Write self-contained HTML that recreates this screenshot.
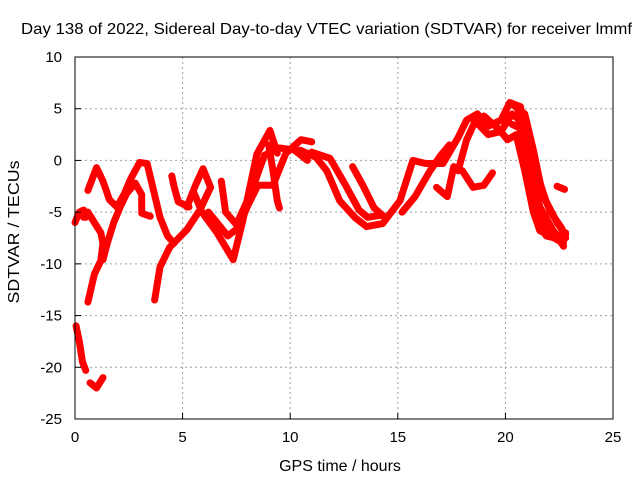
<!DOCTYPE html>
<html><head><meta charset="utf-8"><style>
body{margin:0;background:#fff}
svg{display:block;font-family:"Liberation Sans",sans-serif}
</style></head><body>
<svg id="chart" width="640" height="480" xmlns="http://www.w3.org/2000/svg">
<rect x="0" y="0" width="640" height="480" fill="#fff"/>
<text x="21" y="34" font-size="16" textLength="611" lengthAdjust="spacingAndGlyphs">Day 138 of 2022, Sidereal Day-to-day VTEC variation (SDTVAR) for receiver lmmf</text>
<text x="340" y="471" font-size="16" text-anchor="middle">GPS time / hours</text>
<text x="19" y="232" font-size="16" text-anchor="middle" textLength="143" lengthAdjust="spacingAndGlyphs" transform="rotate(-90 19 232)">SDTVAR / TECUs</text>
<g id="grid"></g><g id="series"></g><g id="axes"></g>
</svg>
<script>
const xTicks=[0,5,10,15,20,25];
const yTicks=[10,5,0,-5,-10,-15,-20,-25];
const trackA=[[0,-6],[0.2,-5],[0.4,-4.8],[0.5,-5.5]];
const trackB=[[0.05,-16],[0.2,-17.5],[0.35,-19.5],[0.5,-20.3]];
const trackC=[[0.7,-21.5],[1,-22],[1.3,-21]];
const trackD=[[0.6,-13.7],[0.9,-11],[1.2,-9.7],[1.3,-8],[1.2,-7],[0.9,-6],[0.6,-5],[0.4,-5.5]];
const trackE=[[0.6,-2.9],[1.0,-0.7],[1.3,-2],[1.6,-3.8],[1.95,-4.5],[2.3,-3.2],[2.56,-1.9],[3.0,-0.2],[3.35,-0.3],[3.5,-1.6],[3.95,-5.5],[4.3,-7.3],[4.6,-8]];
const trackF=[[1.3,-9.6],[1.5,-8],[1.8,-6],[2.1,-4.5],[2.4,-3.2],[2.8,-2.2],[3.1,-3.3],[3.1,-5.1],[3.5,-5.4]];
const trackG=[[3.7,-13.5],[3.95,-10.3],[4.4,-8.4],[5.2,-6.7],[5.8,-4.8],[6.3,-2.6],[5.95,-0.8],[5.6,-2.4],[5.2,-4.5]];
const trackH=[[4.5,-1.5],[4.6,-2.5],[4.8,-4],[5.3,-4.5]];
const trackI=[[5.5,-3],[5.9,-5],[6.6,-7],[7.35,-9.6],[7.8,-5.8],[8.45,0.6],[9.06,2.9],[9.4,0.7]];
const trackJ=[[9.0,1.5],[9.2,-1],[9.4,-3.9],[9.5,-4.6]];
const trackK=[[6.2,-5],[7.1,-7.3],[7.6,-6.5],[8.0,-4.5],[8.5,-2.4],[9.2,-2.4],[9.8,0.7],[10.5,2],[11,1.8]];
const trackL=[[6.8,-2],[7.0,-5],[7.5,-6.2],[8.2,-3],[8.8,0.5],[9.5,1.2],[10.2,1],[10.8,0]];
const trackM=[[10.45,1],[11.2,0.3],[11.7,-1],[12.3,-3.9],[13.0,-5.5],[13.55,-6.4],[14.3,-6.1],[15.1,-3.9],[15.7,0],[16.3,-0.3],[17.1,-0.3],[17.8,2.2],[18.2,3.9],[18.7,4.5],[19.2,3.3],[19.8,3.9],[20.2,5.6],[20.7,5.2],[21.1,0.4],[21.6,-4.5],[22.2,-6.7],[22.7,-8.3]];
const trackN=[[11.0,0.8],[11.85,0.2],[12.6,-2.5],[13.2,-4.8],[13.6,-5.5],[14.2,-5.3]];
const trackO=[[12.9,-0.6],[13.4,-2.5],[13.9,-4.6],[14.4,-5.5]];
const trackP=[[15.2,-5],[15.8,-3.5],[16.5,-1],[17.0,0.5],[17.4,1.5]];
const trackQ=[[16.8,-2.6],[17.3,-3.5],[17.6,-0.6],[18.0,-1],[18.5,-2.6],[19.0,-2.4],[19.4,-1.2]];
const trackR=[[17.8,-1],[18.2,2],[18.6,3.8],[19.2,2.5],[19.8,2.8],[20.3,4.5],[20.6,4],[21.0,0],[21.3,-3.5],[21.5,-6],[21.9,-7.3],[22.5,-7.6],[22.8,-7]];
const trackS=[[19.0,4.3],[19.7,3],[20.1,2],[20.5,2.5],[20.9,-1],[21.3,-5],[21.6,-6.8],[22.0,-7.2],[22.7,-8]];
const trackT=[[20.4,5.3],[20.9,4.5],[21.3,1],[21.7,-3],[22.1,-5],[22.6,-6.5],[22.8,-7.5]];
const trackV=[[20.3,3.5],[20.8,3],[21.1,-1],[21.4,-4],[21.8,-6],[22.3,-7],[22.7,-7.8]];
const trackW=[[20.6,4.8],[21.0,2.5],[21.5,-1.5],[21.9,-4],[22.4,-6],[22.8,-7.2]];
const trackU=[[22.4,-2.5],[22.75,-2.8]];
const tracks=[trackA,trackB,trackC,trackD,trackE,trackF,trackG,trackH,trackI,trackJ,trackK,trackL,trackM,trackN,trackO,trackP,trackQ,trackR,trackS,trackT,trackV,trackW,trackU];
const X0=75,X1=613,Y0=57,Y1=419;
function xs(t){return X0+(t-0)/(25-0)*(X1-X0);}
function ys(v){return Y0+(10-v)/(10-(-25))*(Y1-Y0);}
const NS="http://www.w3.org/2000/svg";
function mk(tag,attrs,parent){const e=document.createElementNS(NS,tag);for(const k in attrs)e.setAttribute(k,attrs[k]);parent.appendChild(e);return e;}
const grid=document.getElementById('grid'),axes=document.getElementById('axes'),series=document.getElementById('series');
xTicks.forEach(t=>{
 const x=xs(t);
 if(t>0&&t<25){const g=mk('line',{x1:x,y1:Y0,x2:x,y2:Y1,stroke:'#a0a0a0','stroke-dasharray':'2,3'},grid);
 
 }
 const tk=mk('line',{x1:x,y1:Y1,x2:x,y2:Y1-6,stroke:'#000'},axes);
 
 
 const lb=mk('text',{x:x,y:Y1+23,'font-size':15,'text-anchor':'middle'},axes);lb.textContent=t;
 
 
});
yTicks.forEach(v=>{
 const y=ys(v);
 if(v<10&&v>-25){const g=mk('line',{x1:X0,y1:y,x2:X1,y2:y,stroke:'#a0a0a0','stroke-dasharray':'2,3'},grid);
 
 }
 const tk=mk('line',{x1:X0,y1:y,x2:X0+6,y2:y,stroke:'#000'},axes);
 
 
 const lb=mk('text',{x:X0-13,y:y+5,'font-size':15,'text-anchor':'end'},axes);lb.textContent=v;
 
 
});
const fr=mk('rect',{x:X0,y:Y0,width:X1-X0,height:Y1-Y0,fill:'none',stroke:'#000'},axes);


tracks.forEach(tr=>{
 const p=mk('polyline',{points:tr.map(d=>xs(d[0])+','+ys(d[1])).join(' '),fill:'none',stroke:'#ff0000','stroke-width':7,'stroke-linejoin':'round','stroke-linecap':'round'},series);
 
 
});
</script>
</body></html>
